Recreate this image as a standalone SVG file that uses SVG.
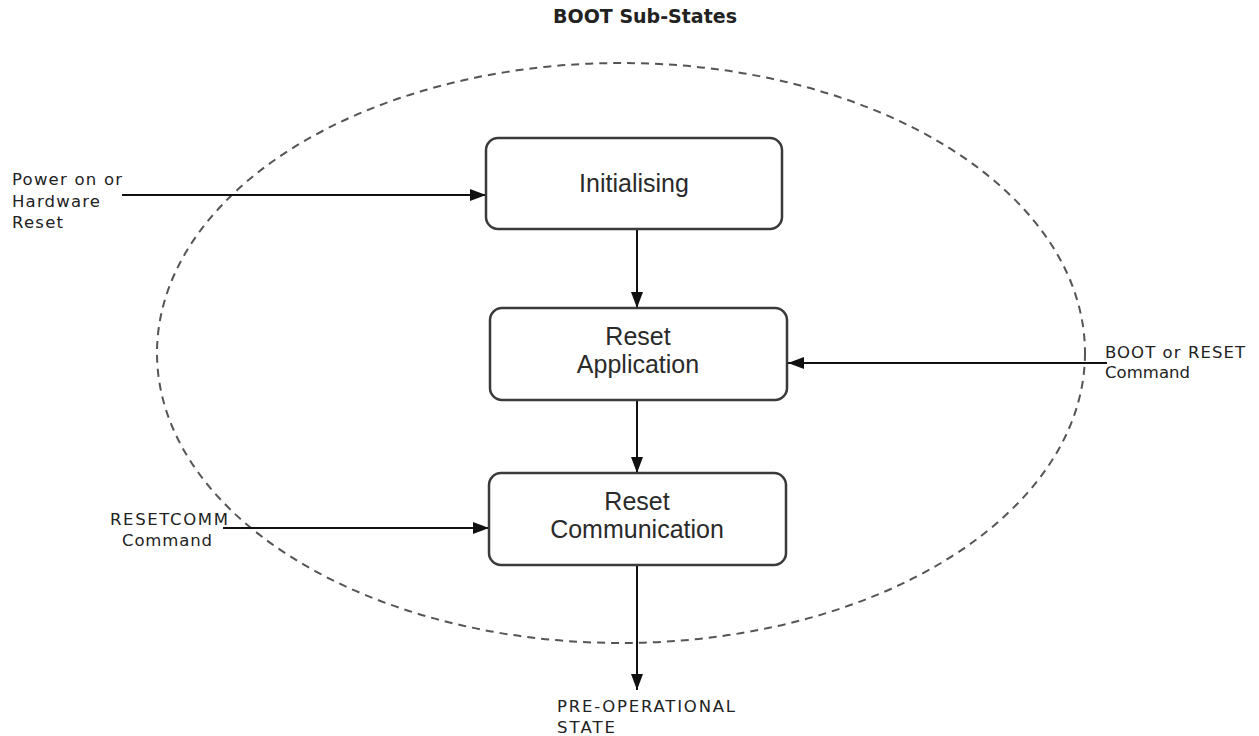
<svg xmlns="http://www.w3.org/2000/svg" width="1259" height="736" viewBox="0 0 1259 736">
<style>
.box{fill:#fff;stroke:#3a3a3a;stroke-width:2.5}
.bt{font-family:"Liberation Sans",Arial,sans-serif;font-size:25px;fill:#2a2a2a;text-anchor:middle}
.lb{font-family:"DejaVu Sans","Liberation Sans",sans-serif;font-size:16.5px;fill:#222}
.cn{stroke:#111;stroke-width:2;fill:none;marker-end:url(#ah)}
</style>
<defs>
<marker id="ah" viewBox="0 0 16 12" refX="16" refY="6" markerWidth="16" markerHeight="12" markerUnits="userSpaceOnUse" orient="auto">
<path d="M0,0 L16,6 L0,12 Z" fill="#111"/>
</marker>
</defs>
<rect width="1259" height="736" fill="#fff"/>
<text x="645" y="23" font-family="DejaVu Sans,sans-serif" font-weight="bold" font-size="19" fill="#222" text-anchor="middle">BOOT Sub-States</text>
<ellipse id="boundary" cx="621" cy="353" rx="464" ry="290" fill="none" stroke="#555" stroke-width="2" stroke-dasharray="8 6"/>
<g id="connectors">
<line class="cn" x1="122" y1="195" x2="486" y2="195"/>
<line class="cn" x1="637" y1="230" x2="637" y2="308"/>
<line class="cn" x1="1107" y1="363" x2="788" y2="363"/>
<line class="cn" x1="637" y1="400" x2="637" y2="473"/>
<line class="cn" x1="223" y1="528" x2="489" y2="528"/>
<line class="cn" x1="637" y1="565" x2="637" y2="690"/>
</g>
<g id="initialising">
<rect class="box" x="486" y="138" width="296" height="91" rx="12"/>
<text class="bt" x="634" y="192">Initialising</text>
</g>
<g id="reset-application">
<rect class="box" x="490" y="308" width="297" height="92" rx="12"/>
<text class="bt" x="638" y="345">Reset</text>
<text class="bt" x="638" y="373">Application</text>
</g>
<g id="reset-communication">
<rect class="box" x="489" y="473" width="297" height="92" rx="12"/>
<text class="bt" x="637" y="510">Reset</text>
<text class="bt" x="637" y="538">Communication</text>
</g>
<g id="power-on">
<text class="lb" x="12" y="185" textLength="110" lengthAdjust="spacing">Power on or</text>
<text class="lb" x="12" y="207" textLength="88" lengthAdjust="spacing">Hardware</text>
<text class="lb" x="12" y="228" textLength="51" lengthAdjust="spacing">Reset</text>
</g>
<g id="boot-reset">
<text class="lb" x="1105" y="358" textLength="140" lengthAdjust="spacing">BOOT or RESET</text>
<text class="lb" x="1105" y="378" textLength="85" lengthAdjust="spacing">Command</text>
</g>
<g id="resetcomm">
<text class="lb" x="110" y="525" font-size="15.5" textLength="118" lengthAdjust="spacing">RESETCOMM</text>
<text class="lb" x="122" y="546" font-size="15.5" textLength="90" lengthAdjust="spacing">Command</text>
</g>
<g id="pre-operational">
<text class="lb" x="557" y="712" textLength="178" lengthAdjust="spacing">PRE-OPERATIONAL</text>
<text class="lb" x="557" y="733" textLength="58" lengthAdjust="spacing">STATE</text>
</g>
</svg>
